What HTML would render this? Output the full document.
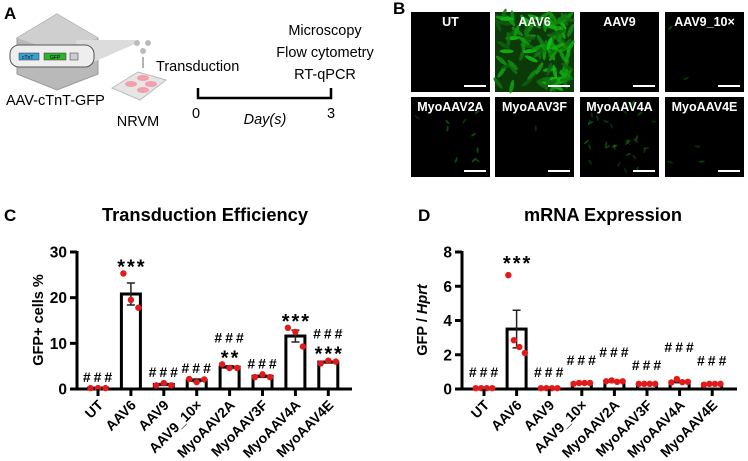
<!DOCTYPE html>
<html><head><meta charset="utf-8">
<style>
html,body{margin:0;padding:0;background:#fff;}
svg{display:block;font-family:"Liberation Sans",Arial,sans-serif;}
</style></head>
<body>
<svg id="fig" width="748" height="461" viewBox="0 0 748 461" xmlns="http://www.w3.org/2000/svg">
  <g>
    <text x="4" y="19" font-size="17" font-weight="bold">A</text>
    <polygon points="57,14 98,38 98,74 57,90 17,74 17,38" fill="#b9b9b9" stroke="#999"/>
    <polygon points="57,14 98,38 57,52 17,38" fill="#cfcfcf"/>
    <polygon points="76,40 135,40 135,44 80,68" fill="#dcdcdc"/>
    <rect x="10" y="45" width="84" height="22" rx="9" fill="#eee" stroke="#555"/>
    <rect x="19" y="53" width="20" height="7" fill="#3aa0d0" stroke="#333" stroke-width="0.5"/>
    <text x="22" y="59" font-size="5">cTnT</text>
    <rect x="44" y="53" width="22" height="7" fill="#2fb02f" stroke="#333" stroke-width="0.5"/>
    <text x="50" y="59" font-size="5">GFP</text>
    <rect x="70" y="53" width="8" height="7" fill="#ccc" stroke="#333" stroke-width="0.5"/>
    <circle cx="137" cy="43" r="3" fill="#bbb"/><circle cx="148" cy="43" r="3" fill="#bbb"/><circle cx="143" cy="51" r="3" fill="#bbb"/>
    <line x1="143" y1="57" x2="143" y2="68" stroke="#666"/>
    <polygon points="112,88 138,72 166,80 140,100" fill="#e6e6e6" stroke="#bbb"/>
    <ellipse cx="131" cy="84" rx="6" ry="3" fill="#f2a0ab"/><ellipse cx="143" cy="78" rx="6" ry="3" fill="#f2a0ab"/>
    <ellipse cx="151" cy="84" rx="6" ry="3" fill="#f2a0ab"/><ellipse cx="143" cy="90" rx="6" ry="3" fill="#f2a0ab"/>
    <text x="6" y="105" font-size="14.5">AAV-cTnT-GFP</text>
    <text x="138" y="126" font-size="14.5" text-anchor="middle">NRVM</text>
    <text x="156" y="71" font-size="14.5">Transduction</text>
    <text x="325" y="35" font-size="14.5" text-anchor="middle">Microscopy</text>
    <text x="325" y="57" font-size="14.5" text-anchor="middle">Flow cytometry</text>
    <text x="325" y="79" font-size="14.5" text-anchor="middle">RT-qPCR</text>
    <path d="M198,88 V98 H331 V88" fill="none" stroke="#000" stroke-width="2.5"/>
    <text x="196" y="118" font-size="14.5" text-anchor="middle">0</text>
    <text x="331" y="118" font-size="14.5" text-anchor="middle">3</text>
    <text x="265" y="124" font-size="14.5" font-style="italic" text-anchor="middle">Day(s)</text>
  </g>
  <g id="panelB">
    <text x="393" y="14" font-size="17" font-weight="bold">B</text>
  </g>
  <g id="panelC">
    <text x="4" y="221" font-size="17" font-weight="bold">C</text>
    <text x="102" y="221" font-size="18" font-weight="bold" textLength="206" lengthAdjust="spacingAndGlyphs">Transduction Efficiency</text>
    <text transform="translate(43,320) rotate(-90)" font-size="14.5" font-weight="bold" text-anchor="middle">GFP+ cells %</text>
  </g>
  <g id="panelD">
    <text x="418" y="221" font-size="17" font-weight="bold">D</text>
    <text x="524" y="221" font-size="18" font-weight="bold" textLength="158" lengthAdjust="spacingAndGlyphs">mRNA Expression</text>
    <text transform="translate(427,320) rotate(-90)" font-size="14.5" font-weight="bold" text-anchor="middle">GFP / <tspan font-style="italic">Hprt</tspan></text>
  </g>
</svg>
<script>
const NS = "http://www.w3.org/2000/svg";
const categories = ["UT","AAV6","AAV9","AAV9_10×","MyoAAV2A","MyoAAV3F","MyoAAV4A","MyoAAV4E"];
// Panel C data
const cMeans = [0.2,20.8,1.0,1.9,4.8,2.8,11.6,5.9];
const cErr = [0.05,2.4,0.2,0.3,0.3,0.25,1.3,0.2];
const cPoints = [[0.2,0.2,0.2],[25.3,19.5,17.8],[0.8,1.3,0.8],[2.2,1.5,2.1],[5.4,4.6,4.6],[2.6,3.2,2.6],[13.4,12.5,9.3],[5.6,6.2,6.0]];
const cTicks = [0,10,20,30];
const cAnnot = [["###"],["***"],["###"],["###"],["###","**"],["###"],["***"],["###","***"]];
// Panel D data
const dMeans = [0.05,3.5,0.05,0.33,0.44,0.3,0.42,0.29];
const dErr = [0.01,1.1,0.01,0.02,0.02,0.01,0.05,0.02];
const dPoints = [[0.05,0.05,0.05,0.05],[6.65,2.85,2.45,2.1],[0.05,0.05,0.05,0.05],[0.3,0.35,0.35,0.35],[0.45,0.5,0.42,0.45],[0.3,0.3,0.3,0.3],[0.38,0.58,0.4,0.42],[0.25,0.3,0.3,0.3]];
const dTicks = [0,2,4,6,8];
const dAnnot = [["###"],["***"],["###"],["###"],["###"],["###"],["###"],["###"]];
const dAnnotLevel = [1.0,7.6,1.0,1.7,2.15,1.4,2.45,1.65];

function mk(tag, attrs, parent){const e=document.createElementNS(NS,tag);for(const k in attrs)e.setAttribute(k,attrs[k]);parent.appendChild(e);return e;}

function drawChart(g, cfg){
  const y = v => cfg.y0 - (v/cfg.ymax)*(cfg.y0-cfg.y1);
  const x = i => cfg.xStart + i*cfg.step;
  const bw = 19;
  let ax = mk('line',{x1:cfg.axX,y1:y(cfg.ymax)-1,x2:cfg.axX,y2:cfg.y0+1.5,stroke:'#000','stroke-width':3},g);
  
  
  cfg.ticks.forEach(t=>{
    let tl=mk('line',{x1:cfg.axX-7,y1:y(t),x2:cfg.axX,y2:y(t),stroke:'#000','stroke-width':3},g);
    
    
    let tx=mk('text',{x:cfg.axX-10,y:y(t)+5.5,'font-size':15.5,'font-weight':'bold','text-anchor':'end'},g);
    tx.textContent=t;
    
    
  });
  let xa=mk('line',{x1:cfg.axX,y1:cfg.y0,x2:cfg.axEnd,y2:cfg.y0,stroke:'#000','stroke-width':3},g);
  
  
  categories.forEach((c,i)=>{
    const cx=x(i);
    const m=cfg.means[i];
    let b=mk('rect',{x:cx-bw/2,y:y(m),width:bw,height:Math.max(0,cfg.y0-y(m)),fill:'#fff',stroke:'#000','stroke-width':3},g);
    
    
    const e=cfg.err[i];
    let eb=mk('path',{d:`M${cx},${y(m-e)}V${y(m+e)}M${cx-4},${y(m+e)}H${cx+4}M${cx-4},${y(m-e)}H${cx+4}`,stroke:'#222','stroke-width':1.5,fill:'none'},g);
    
    
    const pts=cfg.points[i];
    pts.forEach((p,j)=>{
      const off=(j-(pts.length-1)/2)*(pts.length>3?5.5:7.5);
      let d=mk('circle',{cx:cx+off,cy:y(p),r:3.2,fill:'#e31a1c'},g);
      
      
    });
    let tk=mk('line',{x1:cx,y1:cfg.y0,x2:cx,y2:cfg.y0+7,stroke:'#000','stroke-width':3},g);
    
    
    let lb=mk('text',{transform:`translate(${cx+6},${cfg.y0+17}) rotate(-45)`,'font-size':14,'font-weight':'bold','text-anchor':'end'},g);
    lb.textContent=c;
    
    
    const top=Math.max(m+e,...pts);
    const an=cfg.annot[i];
    an.forEach((s,k)=>{
      const star=s.indexOf('*')>=0;
      let base = cfg.levels ? y(cfg.levels[i])+5 : y(top)-6;
      const yy=base-(an.length-1-k)*16;
      let t=mk('text',{x:cx+1,y:yy+(star?6:0),'font-size':star?20:14,'font-weight':'bold','text-anchor':'middle','letter-spacing':star?2:3},g);
      t.textContent=s;
      
      
    });
  });
}
drawChart(document.getElementById('panelC'),{y0:389,y1:252,ymax:30,axX:77,axEnd:352,xStart:98,step:32.9,means:cMeans,err:cErr,points:cPoints,ticks:cTicks,annot:cAnnot});
drawChart(document.getElementById('panelD'),{y0:389,y1:252,ymax:8,axX:462,axEnd:737,xStart:484,step:32.6,means:dMeans,err:dErr,points:dPoints,ticks:dTicks,annot:dAnnot,levels:dAnnotLevel});

const tileNames=["UT","AAV6","AAV9","AAV9_10×","MyoAAV2A","MyoAAV3F","MyoAAV4A","MyoAAV4E"];
const tileDensity=[0,110,0,2,10,1,30,3];
const gB=document.getElementById('panelB');
const tx=[411,495,580,665], ty=[12,97];
let seed=7; function rnd(){seed=(seed*16807)%2147483647;return seed/2147483647;}
tileNames.forEach((n,i)=>{
  const X=tx[i%4],Y=ty[Math.floor(i/4)];
  let r=mk('rect',{x:X,y:Y,width:79,height:80,fill:i==1?'#0b3a08':'#000'},gB);
  
  
  for(let k=0;k<tileDensity[i];k++){
    const cx=X+3+rnd()*73, cy=Y+3+rnd()*74, a=rnd()*180;
    const bright=i==1?(90+Math.floor(rnd()*110)):(60+Math.floor(rnd()*80));
    mk('ellipse',{cx:cx,cy:cy,rx:i==1?7:3,ry:i==1?2:1,fill:`rgb(15,${bright},15)`,transform:`rotate(${a},${cx},${cy})`,opacity:i==1?0.85:0.6},gB);
  }
  let t=mk('text',{x:X+39.5,y:Y+14,'font-size':12.5,'font-weight':'bold',fill:'#fff','text-anchor':'middle'},gB);
  t.textContent=n;
  
  
  let s=mk('line',{x1:X+53,y1:Y+74,x2:X+75,y2:Y+74,stroke:'#fff','stroke-width':2},gB);
  
  
});
</script>
</body></html>
